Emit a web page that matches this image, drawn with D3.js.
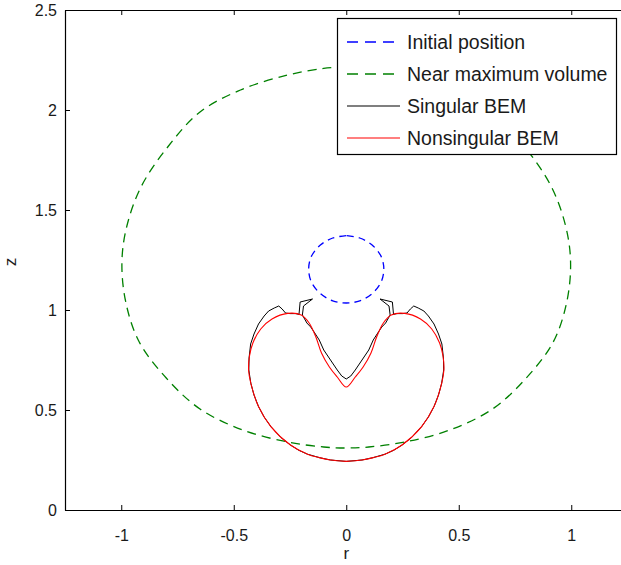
<!DOCTYPE html>
<html>
<head>
<meta charset="utf-8">
<script src="https://cdn.jsdelivr.net/npm/d3@7"></script>
<style>
  html, body { margin: 0; padding: 0; background: #fff; }
  svg { display: block; font-family: "Liberation Sans", Arial, sans-serif; }
</style>
</head>
<body>
<svg id="chart" width="621" height="565"></svg>
<script>
// ---------- data (r,z pairs) ----------
const seriesNames = ["Initial position", "Near maximum volume", "Singular BEM", "Nonsingular BEM"];
const seriesColors = ["#0000ff", "#008000", "#000000", "#ff0000"];
const xTicks = [-1, -0.5, 0, 0.5, 1];
const yTicks = [0, 0.5, 1, 1.5, 2, 2.5];

// left halves (r <= 0) of the axisymmetric profiles, mirrored for r >= 0
const initialHalf = [
  [0, 1.372], [-0.06, 1.36], [-0.115, 1.325], [-0.155, 1.268], [-0.167, 1.205],
  [-0.155, 1.14], [-0.115, 1.082], [-0.06, 1.046], [0, 1.035]
];
const maxVolumeHalf = [
  [0, 2.215], [-0.1, 2.208], [-0.26, 2.175], [-0.47, 2.10], [-0.65, 1.99],
  [-0.79, 1.82], [-0.91, 1.62], [-0.975, 1.42], [-0.997, 1.24], [-0.98, 1.04],
  [-0.92, 0.84], [-0.8, 0.66], [-0.65, 0.505], [-0.46, 0.40], [-0.26, 0.34],
  [-0.1, 0.315], [0, 0.31]
];
const singularHalf = [
  [0, 0.243], [-0.07, 0.25], [-0.12, 0.262], [-0.172, 0.279], [-0.21, 0.298],
  [-0.248, 0.325], [-0.29, 0.362], [-0.335, 0.417], [-0.365, 0.465], [-0.39, 0.517],
  [-0.41, 0.575], [-0.424, 0.633], [-0.433, 0.70], [-0.432, 0.76],
  [-0.425, 0.83], [-0.41, 0.88], [-0.39, 0.93], [-0.365, 0.97], [-0.345, 0.995],
  [-0.32, 1.01], [-0.30, 1.02], [-0.285, 1.005], [-0.27, 0.985], [-0.25, 0.982],
  [-0.225, 0.982], [-0.21, 0.978], [-0.205, 1.04], [-0.15, 1.055], [-0.19, 1.02],
  [-0.195, 0.975], [-0.175, 0.935], [-0.158, 0.915], [-0.14, 0.885], [-0.12, 0.85],
  [-0.10, 0.80], [-0.07, 0.75], [-0.04, 0.70], [-0.02, 0.67], [0, 0.655]
];
const nonsingularHalf = [
  [0, 0.243], [-0.07, 0.25], [-0.12, 0.262], [-0.172, 0.279], [-0.248, 0.325],
  [-0.335, 0.417], [-0.39, 0.517], [-0.424, 0.633], [-0.434, 0.70], [-0.43, 0.77],
  [-0.415, 0.835], [-0.38, 0.905], [-0.33, 0.955], [-0.26, 0.983], [-0.20, 0.975],
  [-0.165, 0.935], [-0.135, 0.865], [-0.11, 0.785], [-0.075, 0.715], [-0.04, 0.665],
  [0, 0.615]
];

// full closed profile: left half followed by its mirror image in reverse order
function fullProfile(half) {
  const mirrored = half.slice(0, -1).reverse().map(([r, z]) => [-r, z]);
  return half.concat(mirrored);
}
const seriesData = [initialHalf, maxVolumeHalf, singularHalf, nonsingularHalf].map(fullProfile);

// ---------- layout ----------
const svg = d3.select("#chart");
const mLeft = 65, mRight = 627.5, mTop = 10, mBottom = 510;
const x = d3.scaleLinear().domain([-1.25, 1.25]).range([mLeft, mRight]);
const y = d3.scaleLinear().domain([0, 2.5]).range([mBottom, mTop]);

svg.append("defs").append("clipPath").attr("id", "clip")
  .append("rect").attr("x", mLeft).attr("y", mTop).attr("width", mRight - mLeft).attr("height", mBottom - mTop);

// ---------- curves ----------
const line = d3.line().x(d => x(d[0])).y(d => y(d[1]));
const smooth = d3.line().x(d => x(d[0])).y(d => y(d[1])).curve(d3.curveCatmullRom.alpha(0.5));
const styles = [
  { gen: smooth, dash: "7,5", width: 1.3 },
  { gen: smooth, dash: "9,6", width: 1.3 },
  { gen: line, dash: null, width: 1 },
  { gen: smooth, dash: null, width: 1.1 }
];
const plot = svg.append("g").attr("clip-path", "url(#clip)");
seriesData.forEach((pts, i) => {
  plot.append("path")
    .attr("d", styles[i].gen(pts))
    .attr("fill", "none")
    .attr("stroke", seriesColors[i])
    .attr("stroke-width", styles[i].width)
    .attr("stroke-dasharray", styles[i].dash)
    .attr("stroke-linejoin", "round");
});

// ---------- axes (MATLAB style box with inward ticks) ----------
const tickFont = "16px";
const fmt = d => String(d);
const gx = svg.append("g").attr("transform", `translate(0,${mBottom})`)
  .call(d3.axisBottom(x).tickValues(xTicks).tickSize(-5).tickSizeOuter(0).tickPadding(20).tickFormat(fmt));
const gxTop = svg.append("g").attr("transform", `translate(0,${mTop})`)
  .call(d3.axisTop(x).tickValues(xTicks).tickSize(-5).tickSizeOuter(0).tickFormat(""));
const gy = svg.append("g").attr("transform", `translate(${mLeft},0)`)
  .call(d3.axisLeft(y).tickValues(yTicks).tickSize(-5).tickSizeOuter(0).tickPadding(8).tickFormat(fmt));
const gyRight = svg.append("g").attr("transform", `translate(${mRight},0)`)
  .call(d3.axisRight(y).tickValues(yTicks).tickSize(-5).tickSizeOuter(0).tickFormat(""));

[gx, gxTop, gy, gyRight].forEach(g => {
  g.select(".domain").attr("stroke", "#000").attr("stroke-width", 1.2);
  g.selectAll(".tick line").attr("stroke", "#000");
  g.selectAll(".tick text").attr("fill", "#1a1a1a").style("font-size", tickFont)
    .style("font-family", "'Liberation Sans', Arial, sans-serif");
});

// axis labels
svg.append("text").attr("x", x(0)).attr("y", 559).attr("text-anchor", "middle")
  .style("font-size", "17px").attr("fill", "#1a1a1a").text("r");
svg.append("text").attr("transform", `translate(16,${y(1.24)}) rotate(-90)`)
  .attr("text-anchor", "middle").style("font-size", "17px").attr("fill", "#1a1a1a").text("z");

// ---------- legend ----------
const lg = svg.append("g");
lg.append("rect").attr("x", 337.5).attr("y", 18.5).attr("width", 279).attr("height", 136)
  .attr("fill", "#fff").attr("stroke", "#000").attr("stroke-width", 1.2);
seriesNames.forEach((name, i) => {
  const cy = 42 + i * 32;
  lg.append("line").attr("x1", 347).attr("x2", 400).attr("y1", cy).attr("y2", cy)
    .attr("stroke", seriesColors[i]).attr("stroke-width", i < 2 ? 1.3 : 1.1)
    .attr("stroke-dasharray", i < 2 ? "11,7" : null);
  lg.append("text").attr("x", 407).attr("y", cy).attr("dy", "0.36em")
    .style("font-size", "19.5px").attr("fill", "#1a1a1a").text(name);
});
</script>
</body>
</html>
